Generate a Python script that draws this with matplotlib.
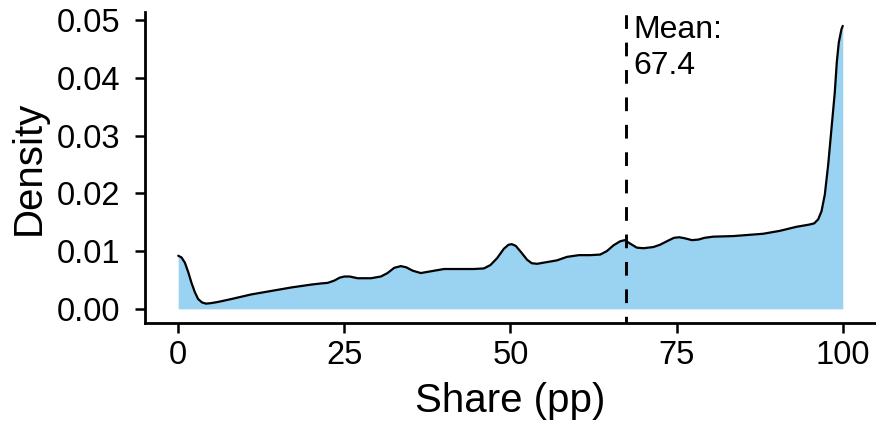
import numpy as np
import matplotlib
matplotlib.use('Agg')
import matplotlib.pyplot as plt

plt.rcParams['font.family'] = ['Liberation Sans', 'DejaVu Sans']

# density estimate of share, read as (x, density) pairs
share = [0, 0.5, 1.0, 1.5, 2.0, 2.5, 3.0, 3.6, 4.2, 5.0, 6.0, 8.0, 11.0,
         14.0, 17.0, 20.0, 21.5, 22.5, 23.5, 24.3, 25.0, 25.8, 27.0, 29.0,
         30.5, 31.5, 32.5, 33.5, 34.3, 35.3, 36.5, 38.5, 40.0, 44.5, 46.0,
         47.0, 48.0, 49.0, 49.7, 50.2, 50.8, 51.6, 52.5, 53.2, 54.0, 57.0,
         58.5, 60.3, 62.0, 63.5, 64.5, 65.5, 66.5, 67.2, 68.0, 69.0, 70.0,
         71.5, 72.5, 73.7, 74.6, 75.4, 76.3, 77.3, 78.3, 79.2, 80.5, 83.5,
         88.0, 90.5, 93.0, 95.0, 95.7, 96.3, 96.8, 97.3, 97.8, 98.3, 98.8,
         99.1, 99.4, 99.8, 100.0]
density = [0.0092, 0.0089, 0.0080, 0.0064, 0.0045, 0.0029, 0.0017, 0.0011,
           0.0009, 0.0010, 0.0012, 0.0017, 0.0025, 0.0031, 0.0037, 0.0042,
           0.0044, 0.0045, 0.0049, 0.0054, 0.0056, 0.0056, 0.0053, 0.0053,
           0.0056, 0.0062, 0.0071, 0.0074, 0.0072, 0.0066, 0.0062, 0.0066,
           0.0069, 0.0069, 0.0070, 0.0076, 0.0088, 0.0104, 0.0111, 0.0112,
           0.0109, 0.0098, 0.0085, 0.0079, 0.0078, 0.0084, 0.0090, 0.0093,
           0.0093, 0.0094, 0.0100, 0.0110, 0.0117, 0.0119, 0.0113, 0.0106,
           0.0105, 0.0107, 0.0111, 0.0118, 0.0123, 0.0124, 0.0122, 0.0119,
           0.0120, 0.0123, 0.0125, 0.0126, 0.0130, 0.0135, 0.0142, 0.0146,
           0.0148, 0.0155, 0.0169, 0.0198, 0.0249, 0.0312, 0.0375, 0.0427,
           0.0461, 0.0484, 0.0490]
mean_share = 67.4

xticks = [0, 25, 50, 75, 100]
yticks = [0.00, 0.01, 0.02, 0.03, 0.04, 0.05]

fig = plt.figure(figsize=(8.76, 4.23), dpi=100)
ax = fig.add_axes([0.1655, 0.2364, 0.8345, 0.7352])

x = np.array(share)
y = np.array(density)
ax.fill_between(x, 0, y, color='#9AD2F1', linewidth=0)
ax.plot(x, y, color='black', lw=1.6, solid_joinstyle='round',
        solid_capstyle='round')

ax.axvline(mean_share, color='black', lw=2.1, linestyle=(2.4, (4.7, 4.7)))
ax.text(mean_share + 1.1, 0.0509, 'Mean:\n%.1f' % mean_share,
        ha='left', va='top', fontsize=23, linespacing=1.27)

ax.set_xlim(-5, 105)
ax.set_ylim(-0.00245, 0.0514)
ax.set_xticks(xticks)
ax.set_xticklabels([str(t) for t in xticks])
ax.set_yticks(yticks)
ax.set_yticklabels(['%.2f' % t for t in yticks])

for side in ['top', 'right']:
    ax.spines[side].set_visible(False)
for side in ['left', 'bottom']:
    ax.spines[side].set_linewidth(2.0)
    ax.spines[side].set_capstyle('projecting')

ax.tick_params(axis='both', length=7.5, width=1.8, labelsize=23.5,
               colors='black')
ax.tick_params(axis='y', pad=10)
ax.tick_params(axis='x', pad=5)
ax.set_xlabel('Share (pp)', fontsize=29, labelpad=8)
ax.set_ylabel('Density', fontsize=29, labelpad=7)

fig.savefig('out.png', dpi=100)
